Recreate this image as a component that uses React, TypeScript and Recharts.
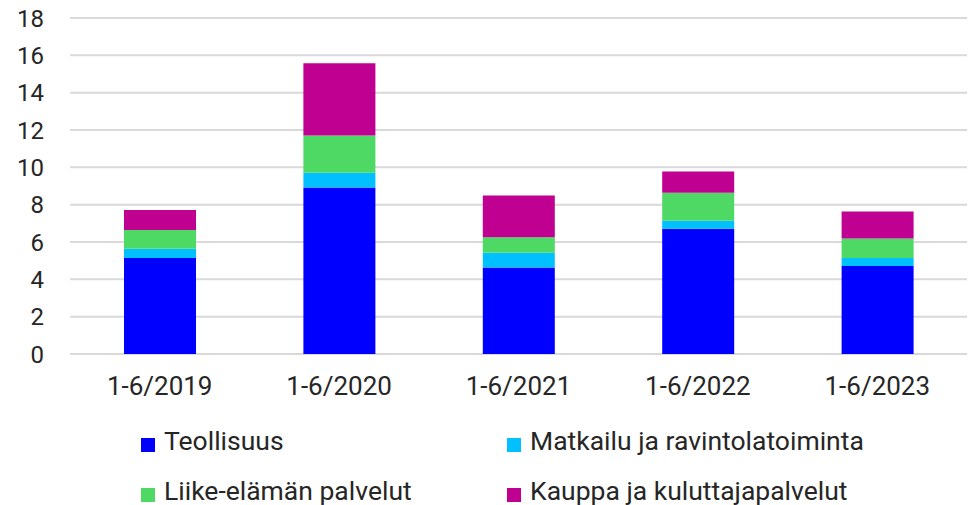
import React from "react";
import { BarChart, Bar, XAxis, YAxis, CartesianGrid } from "recharts";

const categories = ["1-6/2019", "1-6/2020", "1-6/2021", "1-6/2022", "1-6/2023"];
const teollisuus = [5.14, 8.92, 4.64, 6.71, 4.71];
const matkailu = [0.5, 0.79, 0.78, 0.43, 0.43];
const liike = [1.0, 1.99, 0.84, 1.5, 1.05];
const kauppa = [1.07, 3.88, 2.23, 1.14, 1.44];
const yTicks = [0, 2, 4, 6, 8, 10, 12, 14, 16, 18];

const series = [
  { key: "teollisuus", name: "Teollisuus", color: "#0000FF", values: teollisuus },
  { key: "matkailu", name: "Matkailu ja ravintolatoiminta", color: "#00C0FF", values: matkailu },
  { key: "liike", name: "Liike-elämän palvelut", color: "#4DD964", values: liike },
  { key: "kauppa", name: "Kauppa ja kuluttajapalvelut", color: "#C00090", values: kauppa },
];

const data = categories.map((c, i) => {
  const row: Record<string, any> = { category: c };
  series.forEach((s) => {
    row[s.key] = s.values[i];
  });
  return row;
});

const FONT = "Roboto, 'Noto Sans', sans-serif";
const TEXT = "#262626";

// legend layout: two columns, two rows (order: row-major)
const legendPos = [
  { left: 141, top: 428 },
  { left: 507, top: 428 },
  { left: 141, top: 478 },
  { left: 507, top: 478 },
];

export default function App() {
  return (
    <div style={{ position: "absolute", left: 0, top: 0, width: 969, height: 505, background: "#fff", fontFamily: FONT, overflow: "hidden" }}>
      <BarChart
        width={969}
        height={505}
        data={data}
        margin={{ top: 18, right: 2, left: 0, bottom: 91 }}
      >
        <CartesianGrid horizontal vertical={false} stroke="#d9d9d9" strokeWidth={2} />
        <XAxis
          dataKey="category"
          axisLine={false}
          tickLine={false}
          tickSize={0}
          tickMargin={23}
          height={60}
          interval={0}
          tick={{ fill: TEXT, fontSize: 26, fontFamily: FONT }}
        />
        <YAxis
          domain={[0, 18]}
          ticks={yTicks}
          width={70}
          axisLine={false}
          tickLine={false}
          tickSize={0}
          tickMargin={26}
          interval={0}
          tick={{ fill: TEXT, fontSize: 24, fontFamily: FONT }}
        />
        {series.map((s) => (
          <Bar
            key={s.key}
            dataKey={s.key}
            name={s.name}
            stackId="a"
            fill={s.color}
            barSize={72}
            isAnimationActive={false}
          />
        ))}
      </BarChart>
      {series.map((s, i) => (
        <div
          key={s.key}
          style={{
            position: "absolute",
            left: legendPos[i].left,
            top: legendPos[i].top,
            display: "flex",
            alignItems: "flex-start",
            fontSize: 26.5,
            lineHeight: "26px",
            color: TEXT,
            whiteSpace: "nowrap",
          }}
        >
          <span
            style={{
              display: "inline-block",
              width: 14,
              height: 14,
              marginTop: 10,
              marginRight: 9,
              background: s.color,
            }}
          />
          <span>{s.name}</span>
        </div>
      ))}
    </div>
  );
}
